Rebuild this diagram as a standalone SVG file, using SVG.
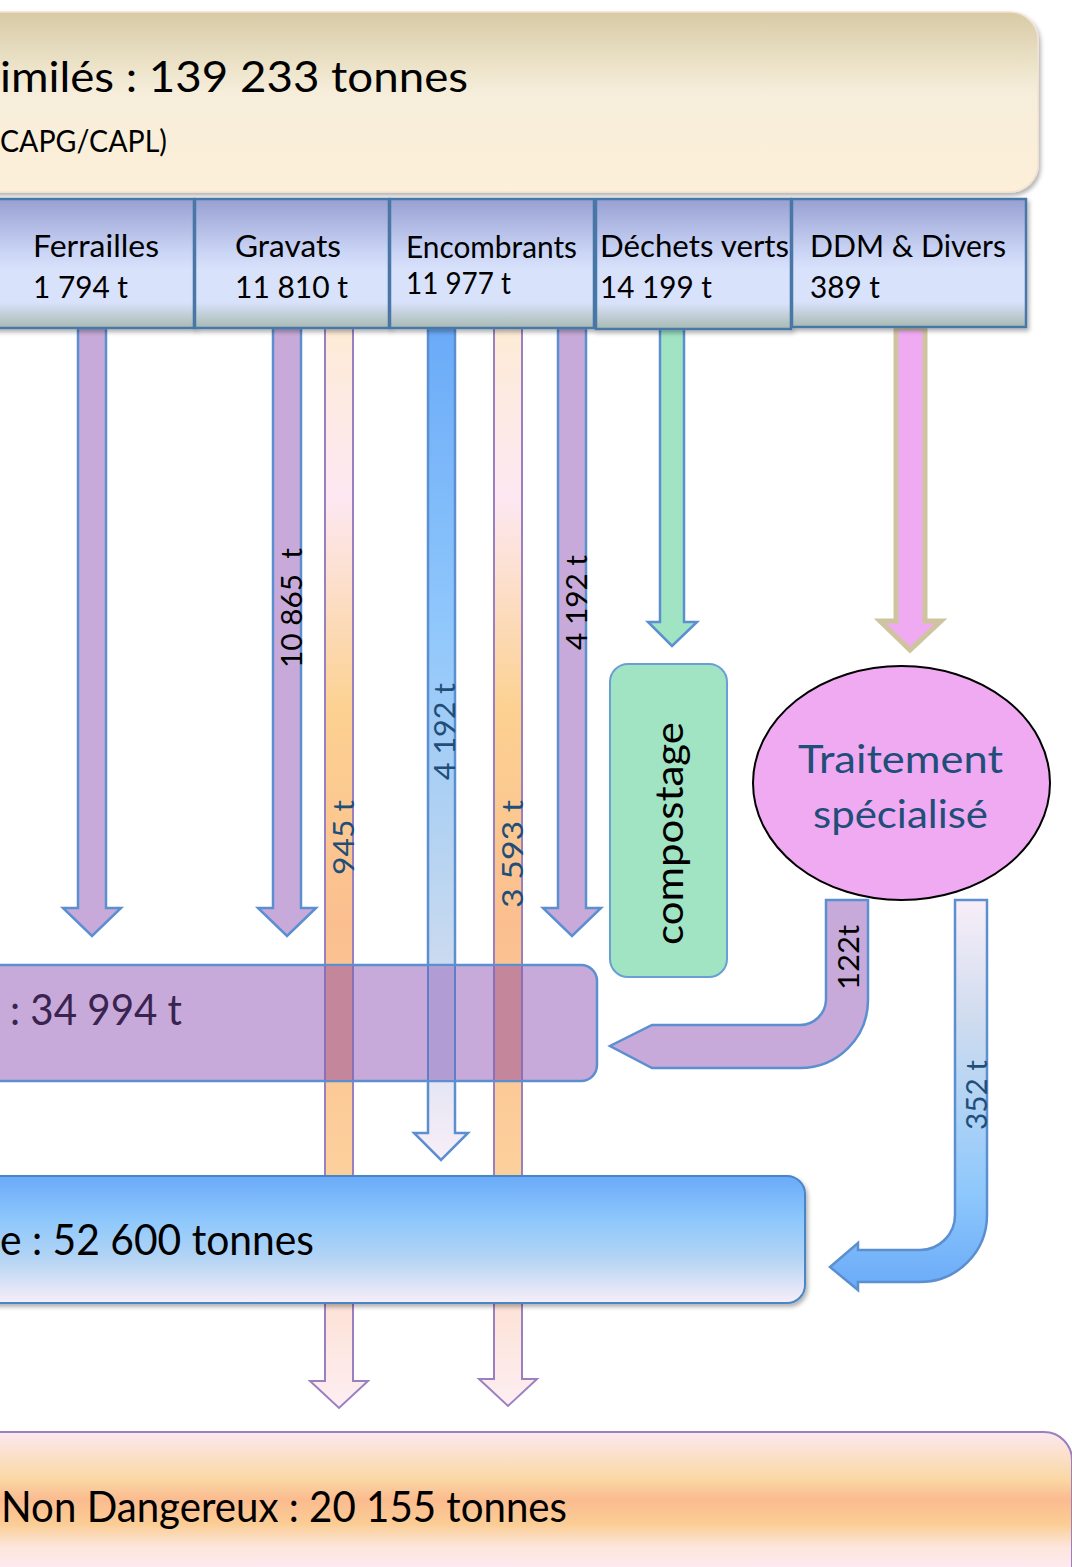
<svg xmlns="http://www.w3.org/2000/svg" width="1072" height="1567" viewBox="0 0 1072 1567">
<style>
text{font-family:Lato,"Open Sans","Liberation Sans",sans-serif;}
.hdr{font-size:30px;fill:#000;}
.big{font-size:43px;fill:#000;}
.rot{font-size:29px;}
.dk{fill:#1f4e79;}
.bk{fill:#000;}
.arrP{fill:#c7aad9;stroke:#5b8fd0;stroke-width:2.5;}
.bar{stroke:#9a80c0;stroke-width:2;}
.cell{fill:url(#gCell);stroke:#4a78a8;stroke-width:2.5;}
</style>
<defs>
<linearGradient id="gTop" x1="0" y1="0" x2="0" y2="1">
<stop offset="0" stop-color="#d8caa6"/><stop offset="0.3" stop-color="#ece3c9"/><stop offset="0.45" stop-color="#f6eedb"/><stop offset="1" stop-color="#fdefd8"/>
</linearGradient>
<linearGradient id="gCell" x1="0" y1="0" x2="0" y2="1">
<stop offset="0" stop-color="#98a0d2"/><stop offset="0.4" stop-color="#c9d3f4"/><stop offset="0.55" stop-color="#d9e2fb"/><stop offset="0.8" stop-color="#d9e2fb"/><stop offset="1" stop-color="#a8bab2"/>
</linearGradient>
<linearGradient id="gBar" gradientUnits="userSpaceOnUse" x1="0" y1="328" x2="0" y2="1176">
<stop offset="0" stop-color="#fdebd6"/><stop offset="0.2" stop-color="#fde8f2"/><stop offset="0.45" stop-color="#fcd191"/><stop offset="0.7" stop-color="#fbbf8f"/><stop offset="1" stop-color="#fcd09c"/>
</linearGradient>
<linearGradient id="gBlueA" gradientUnits="userSpaceOnUse" x1="0" y1="328" x2="0" y2="1160">
<stop offset="0" stop-color="#6aaaf8"/><stop offset="0.35" stop-color="#8fc7fc"/><stop offset="0.6" stop-color="#b2d2f2"/><stop offset="0.8" stop-color="#d0dcef"/><stop offset="1" stop-color="#f8eef8"/>
</linearGradient>
<linearGradient id="gBlueBox" x1="0" y1="0" x2="0" y2="1">
<stop offset="0" stop-color="#6aaaf8"/><stop offset="0.35" stop-color="#8ec8fc"/><stop offset="0.65" stop-color="#b4d4f4"/><stop offset="1" stop-color="#f8eef8"/>
</linearGradient>
<linearGradient id="g352" gradientUnits="userSpaceOnUse" x1="0" y1="900" x2="0" y2="1290">
<stop offset="0" stop-color="#f8eef8"/><stop offset="0.3" stop-color="#d0dcef"/><stop offset="0.5" stop-color="#b4d4f4"/><stop offset="0.75" stop-color="#8ec8fc"/><stop offset="1" stop-color="#6aaaf8"/>
</linearGradient>
<linearGradient id="gLow" x1="0" y1="0" x2="0" y2="1">
<stop offset="0" stop-color="#fde2d6"/><stop offset="1" stop-color="#fdeef2"/>
</linearGradient>
<linearGradient id="gBottom" gradientUnits="userSpaceOnUse" x1="0" y1="1432" x2="0" y2="1567">
<stop offset="0" stop-color="#fce8ef"/><stop offset="0.35" stop-color="#fad8a4"/><stop offset="0.5" stop-color="#fbbb8f"/><stop offset="0.68" stop-color="#fbcd94"/><stop offset="0.85" stop-color="#fce6dc"/><stop offset="1" stop-color="#fde9ef"/>
</linearGradient>
<filter id="sh" x="-5%" y="-10%" width="110%" height="130%">
<feDropShadow dx="2" dy="3" stdDeviation="2" flood-color="#000" flood-opacity="0.3"/>
</filter>
</defs>

<g id="connectors">
<polygon class="arrP" points="78,328 106,328 106,908 121,908 92,936 63,908 78,908"/>
<polygon class="arrP" points="273,328 301,328 301,908 316,908 287,936 258,908 273,908"/>
<polygon class="arrP" points="558,328 586,328 586,908 601,908 572,936 543,908 558,908"/>
<rect class="bar" x="325" y="328" width="28" height="848" fill="url(#gBar)"/>
<rect class="bar" x="494" y="328" width="28" height="848" fill="url(#gBar)"/>
<polygon points="428,328 455,328 455,1133 468,1133 441,1160 414,1133 428,1133" fill="url(#gBlueA)" stroke="#5b8fd0" stroke-width="2.5"/>
<polygon points="660,328 684,328 684,622 697,622 672,646 648,622 660,622" fill="#a0e4c4" stroke="#5b8fd0" stroke-width="2.5"/>
<polygon points="896,328 925,328 925,621 941,621 910,650 880,621 896,621" fill="#f0aaf2" stroke="#cfc4a0" stroke-width="5"/>
<polygon class="bar" points="325,1303 353,1303 353,1381 368,1381 339,1408 310,1381 325,1381" fill="url(#gLow)"/>
<polygon class="bar" points="494,1303 522,1303 522,1379 537,1379 508,1406 479,1379 494,1379" fill="url(#gLow)"/>
<path class="arrP" d="M826,900 H868 V1000 A68,68 0 0 1 800,1068 H652 L610,1046 L652,1025 H800 A26,26 0 0 0 826,1000 Z"/>
<path d="M955,900 H987 V1215 A67,67 0 0 1 920,1282 H858 V1290 L830,1267 L858,1243 V1250 H920 A35,35 0 0 0 955,1215 Z" fill="url(#g352)" stroke="#5b8fd0" stroke-width="2.5"/>
<text class="rot bk" transform="translate(302,668) rotate(-90)" textLength="120" lengthAdjust="spacingAndGlyphs" xml:space="preserve">10 865  t</text>
<text class="rot dk" transform="translate(354,875) rotate(-90)" textLength="75" lengthAdjust="spacingAndGlyphs">945 t</text>
<text class="rot dk" transform="translate(455,780) rotate(-90)" textLength="97" lengthAdjust="spacingAndGlyphs">4 192 t</text>
<text class="rot dk" transform="translate(523,908) rotate(-90)" textLength="108" lengthAdjust="spacingAndGlyphs">3 593 t</text>
<text class="rot bk" transform="translate(587,650) rotate(-90)" textLength="95" lengthAdjust="spacingAndGlyphs">4 192 t</text>
<text class="rot bk" transform="translate(859,990) rotate(-90)" textLength="65" lengthAdjust="spacingAndGlyphs">122t</text>
<text class="rot dk" transform="translate(987,1130) rotate(-90)" textLength="70" lengthAdjust="spacingAndGlyphs">352 t</text>
</g>

<g id="node-total">
<rect x="-30" y="12" width="1068" height="180" rx="28" fill="url(#gTop)" stroke="#f3e2cf" stroke-width="1.5" filter="url(#sh)"/>
<text class="big" x="0" y="92" textLength="468" lengthAdjust="spacingAndGlyphs">imilés : 139 233 tonnes</text>
<text x="0" y="152" font-size="30" fill="#000" textLength="167" lengthAdjust="spacingAndGlyphs">CAPG/CAPL)</text>
</g>

<g id="node-ferrailles">
<rect class="cell" x="-10" y="199" width="204" height="129" filter="url(#sh)"/>
<text class="hdr" x="33" y="257" textLength="126" lengthAdjust="spacingAndGlyphs">Ferrailles</text>
<text class="hdr" x="33" y="298" textLength="95" lengthAdjust="spacingAndGlyphs">1 794 t</text>
</g>
<g id="node-gravats">
<rect class="cell" x="195" y="199" width="194" height="129" filter="url(#sh)"/>
<text class="hdr" x="235" y="257" textLength="106" lengthAdjust="spacingAndGlyphs">Gravats</text>
<text class="hdr" x="235" y="298" textLength="113" lengthAdjust="spacingAndGlyphs">11 810 t</text>
</g>
<g id="node-encombrants">
<rect class="cell" x="390" y="199" width="204" height="129" filter="url(#sh)"/>
<text class="hdr" x="406" y="258" textLength="171" lengthAdjust="spacingAndGlyphs">Encombrants</text>
<text class="hdr" x="406" y="294" textLength="105" lengthAdjust="spacingAndGlyphs">11 977 t</text>
</g>
<g id="node-dechets-verts">
<rect class="cell" x="596" y="199" width="195" height="130" filter="url(#sh)"/>
<text class="hdr" x="600" y="257" textLength="189" lengthAdjust="spacingAndGlyphs">Déchets verts</text>
<text class="hdr" x="600" y="298" textLength="112" lengthAdjust="spacingAndGlyphs">14 199 t</text>
</g>
<g id="node-ddm">
<rect class="cell" x="792" y="199" width="234" height="128" filter="url(#sh)"/>
<text class="hdr" x="810" y="257" textLength="196" lengthAdjust="spacingAndGlyphs">DDM &amp; Divers</text>
<text class="hdr" x="810" y="298" textLength="70" lengthAdjust="spacingAndGlyphs">389 t</text>
</g>

<g id="node-compostage">
<rect x="610" y="664" width="117" height="313" rx="18" fill="#a0e4c4" stroke="#6a9fd4" stroke-width="2"/>
<text transform="translate(683,945) rotate(-90)" font-size="38" fill="#000" textLength="223" lengthAdjust="spacingAndGlyphs">compostage</text>
</g>

<g id="node-traitement">
<ellipse cx="901.5" cy="783" rx="148.5" ry="117" fill="#f0aaf2" stroke="#000" stroke-width="2"/>
<text class="dk" x="798" y="773" font-size="38" textLength="205" lengthAdjust="spacingAndGlyphs">Traitement</text>
<text class="dk" x="813" y="828" font-size="38" textLength="175" lengthAdjust="spacingAndGlyphs">spécialisé</text>
</g>

<g id="node-recyclage">
<rect x="-30" y="965" width="627" height="116" rx="16" fill="#c7aad9" stroke="#5b8fd0" stroke-width="2.5"/>
<rect x="326" y="966" width="26" height="114" fill="#c4869b"/>
<rect x="495" y="966" width="26" height="114" fill="#c4869b"/>
<rect x="429" y="966" width="25" height="114" fill="#b19cd4"/>
<line x1="325" y1="966" x2="325" y2="1080" stroke="#8a70b8" stroke-width="2"/>
<line x1="353" y1="966" x2="353" y2="1080" stroke="#8a70b8" stroke-width="2"/>
<line x1="494" y1="966" x2="494" y2="1080" stroke="#8a70b8" stroke-width="2"/>
<line x1="522" y1="966" x2="522" y2="1080" stroke="#8a70b8" stroke-width="2"/>
<line x1="428" y1="966" x2="428" y2="1080" stroke="#5b7fc8" stroke-width="2"/>
<line x1="455" y1="966" x2="455" y2="1080" stroke="#5b7fc8" stroke-width="2"/>
<text x="10" y="1025" font-size="43" fill="#3a2350" textLength="172" lengthAdjust="spacingAndGlyphs">: 34 994 t</text>
</g>

<g id="node-valorisation">
<rect x="-30" y="1176" width="835" height="127" rx="18" fill="url(#gBlueBox)" stroke="#4a86c8" stroke-width="2" filter="url(#sh)"/>
<text class="big" x="0" y="1255" textLength="314" lengthAdjust="spacingAndGlyphs">e : 52 600 tonnes</text>
</g>

<g id="node-stockage">
<rect x="-30" y="1432" width="1102" height="180" rx="28" fill="url(#gBottom)" stroke="#9a80c0" stroke-width="2"/>
<text class="big" x="1" y="1522" textLength="566" lengthAdjust="spacingAndGlyphs">Non Dangereux : 20 155 tonnes</text>
</g>
</svg>
